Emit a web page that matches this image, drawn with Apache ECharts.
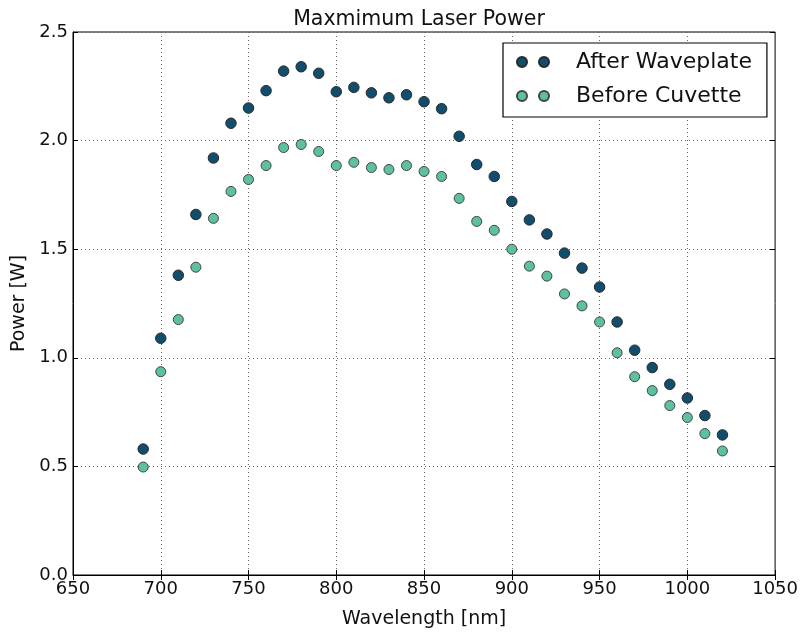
<!DOCTYPE html>
<html>
<head>
<meta charset="utf-8">
<script src="https://cdn.jsdelivr.net/npm/echarts@6/dist/echarts.min.js"></script>
<style>
  html, body { margin: 0; padding: 0; background: #fff; }
  #main { width: 801px; height: 634px; }
</style>
</head>
<body>
<div id="main"></div>
<script>
var wavelengths = [690, 700, 710, 720, 730, 740, 750, 760, 770, 780, 790, 800, 810, 820, 830, 840, 850,
                   860, 870, 880, 890, 900, 910, 920, 930, 940, 950, 960, 970, 980, 990, 1000, 1010, 1020];
var afterWaveplate = [0.58, 1.09, 1.38, 1.66, 1.92, 2.08, 2.15, 2.23, 2.32, 2.34, 2.31, 2.225, 2.245, 2.22, 2.197, 2.211, 2.179,
                      2.147, 2.02, 1.89, 1.835, 1.72, 1.635, 1.57, 1.482, 1.413, 1.326, 1.165, 1.035, 0.955, 0.878, 0.815, 0.734, 0.645];
var beforeCuvette = [0.497, 0.936, 1.176, 1.417, 1.642, 1.766, 1.821, 1.885, 1.968, 1.982, 1.95, 1.885, 1.9, 1.876, 1.867, 1.885, 1.858,
                     1.835, 1.734, 1.628, 1.587, 1.5, 1.422, 1.376, 1.294, 1.239, 1.165, 1.023, 0.913, 0.849, 0.78, 0.725, 0.651, 0.571];

var chart = echarts.init(document.getElementById('main'));
var font = 'DejaVu Sans';
var twoDots = 'path://M0,5a5,5 0 1,0 10,0a5,5 0 1,0 -10,0M22,5a5,5 0 1,0 10,0a5,5 0 1,0 -10,0';

function pairs(ys) {
  return wavelengths.map(function (x, i) { return [x, ys[i]]; });
}

var gridLine = { show: true, lineStyle: { color: '#666', type: [1, 3], width: 1 } };

var option = {
  backgroundColor: '#fff',
  animation: false,
  textStyle: { fontFamily: font },
  title: {
    text: 'Maxmimum Laser Power',
    left: 414, top: 4, textAlign: 'center',
    textStyle: { fontFamily: font, fontSize: 20.5, fontWeight: 'normal', color: '#111' }
  },
  legend: {
    orient: 'vertical',
    left: 503, top: 43,
    padding: [6, 15, 8, 13],
    itemGap: 8,
    itemWidth: 32, itemHeight: 10,
    backgroundColor: '#fff',
    borderColor: '#000', borderWidth: 1.2,
    textStyle: { fontFamily: font, fontSize: 22, lineHeight: 26, color: '#111', padding: [0, 0, 0, 22] },
    data: [
      { name: 'After Waveplate', icon: twoDots },
      { name: 'Before Cuvette', icon: twoDots }
    ]
  },
  grid: { left: 73, right: 23, top: 32, bottom: 57, show: true, borderColor: '#000', borderWidth: 1 },
  xAxis: [{
    type: 'value', min: 650, max: 1050, interval: 50,
    name: 'Wavelength [nm]', nameLocation: 'middle', nameGap: 35,
    nameTextStyle: { fontFamily: font, fontSize: 19, color: '#111' },
    axisLine: { show: true, lineStyle: { color: '#000' } },
    axisTick: { show: true, inside: true, length: 5, lineStyle: { color: '#000' } },
    axisLabel: { fontFamily: font, fontSize: 18, color: '#111', margin: 5,
                 formatter: function (v) { return String(v); } },
    splitLine: gridLine
  }, {
    type: 'value', min: 650, max: 1050, interval: 50, position: 'top',
    axisLine: { show: false },
    axisTick: { show: true, inside: true, length: 5, lineStyle: { color: '#000' } },
    axisLabel: { show: false }, splitLine: { show: false }
  }],
  yAxis: [{
    type: 'value', min: 0, max: 2.5, interval: 0.5,
    name: 'Power [W]', nameLocation: 'middle', nameGap: 41, nameRotate: 90,
    nameTextStyle: { fontFamily: font, fontSize: 19, color: '#111' },
    axisLine: { show: true, lineStyle: { color: '#000' } },
    axisTick: { show: true, inside: true, length: 5, lineStyle: { color: '#000' } },
    axisLabel: { fontFamily: font, fontSize: 18, color: '#111', margin: 5,
                 formatter: function (v) { return v.toFixed(1); } },
    splitLine: gridLine
  }, {
    type: 'value', min: 0, max: 2.5, interval: 0.5, position: 'right',
    axisLine: { show: false },
    axisTick: { show: true, inside: true, length: 5, lineStyle: { color: '#000' } },
    axisLabel: { show: false }, splitLine: { show: false }
  }],
  series: [{
    name: 'After Waveplate', type: 'scatter', symbolSize: 10.5,
    itemStyle: { color: '#114d6d', borderColor: '#2a2a2a', borderWidth: 1, opacity: 1 },
    data: pairs(afterWaveplate)
  }, {
    name: 'Before Cuvette', type: 'scatter', symbolSize: 10,
    itemStyle: { color: '#5dc19e', borderColor: '#444', borderWidth: 1, opacity: 1 },
    data: pairs(beforeCuvette)
  }]
};

chart.setOption(option);
window.addEventListener('resize', function () { chart.resize(); });
</script>
</body>
</html>
